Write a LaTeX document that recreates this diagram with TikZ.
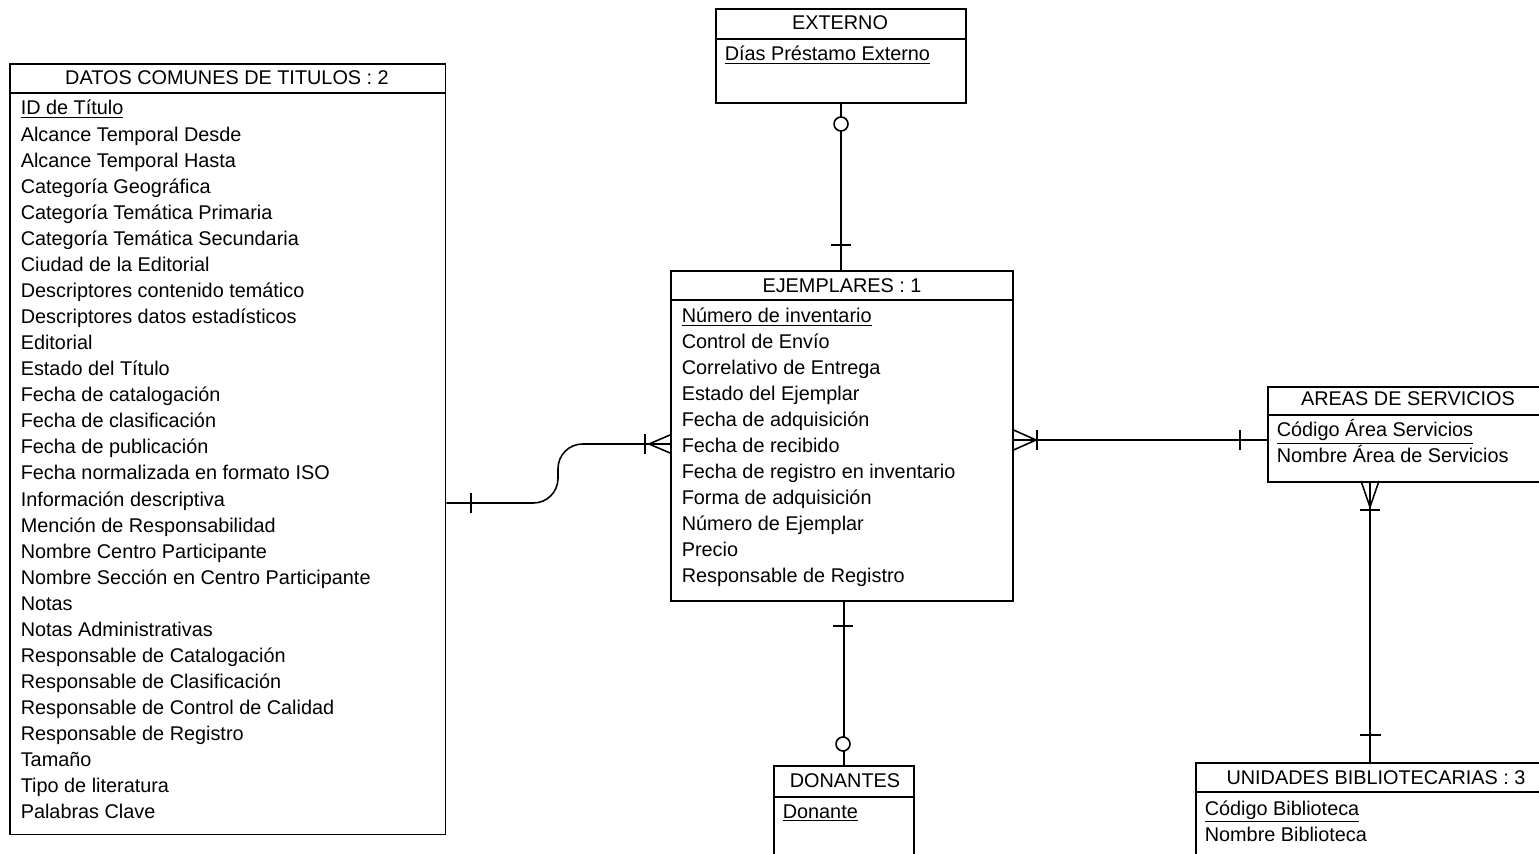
\documentclass[tikz,border=0pt]{standalone}
\usepackage{fontspec}
\setmainfont{Liberation Sans}
\usetikzlibrary{positioning}

\begin{document}
\begin{tikzpicture}[x=0.02cm,y=-0.02cm,line width=0.9pt,
    every node/.style={font=\fontsize{11.3}{13}\selectfont},
    entidad/.style={draw,rectangle,anchor=north west,inner sep=0pt},
    titulo/.style={anchor=base,inner sep=0pt},
    atributo/.style={anchor=base west,inner sep=0pt}]
\useasboundingbox (0,0) rectangle (1539,854);

% tablas
\node[entidad,minimum width=8.72cm,minimum height=15.42cm] (datos) at (9,63) {};
\node[entidad,minimum width=5cm,minimum height=1.88cm] (externo) at (715,8) {};
\node[entidad,minimum width=6.84cm,minimum height=6.6cm] (ejemplares) at (670,270) {};
\node[entidad,minimum width=5.8cm,minimum height=1.9cm] (areas) at (1267,386) {};
\node[entidad,minimum width=2.8cm,minimum height=3cm] (donantes) at (773,765) {};
\node[entidad,minimum width=7.6cm,minimum height=3cm] (unidades) at (1195,762) {};

% cabeceras
\draw (datos.west |- 0,93) -- (datos.east |- 0,93);
\draw (externo.west |- 0,39) -- (externo.east |- 0,39);
\draw (ejemplares.west |- 0,300) -- (ejemplares.east |- 0,300);
\draw (areas.west |- 0,415) -- (areas.east |- 0,415);
\draw (donantes.west |- 0,797) -- (donantes.east |- 0,797);
\draw (unidades.west |- 0,792) -- (unidades.east |- 0,792);

\node[titulo] (tDatos) at (227,85) {DATOS COMUNES DE TITULOS : 2};
\node[titulo] (tExterno) at (840,30) {EXTERNO};
\node[titulo] (tEjemplares) at (842,293) {EJEMPLARES : 1};
\node[titulo] (tAreas) at (1408,406) {AREAS DE SERVICIOS};
\node[titulo] (tDonantes) at (845,787) {DONANTES};
\node[titulo] (tUnidades) at (1376,785) {UNIDADES BIBLIOTECARIAS : 3};

% atributos
\node[atributo] (datA0) at (20,115) {\underline{ID de Título}};
\foreach \a [count=\i] in {Alcance Temporal Desde,Alcance Temporal Hasta,Categoría Geográfica,
    Categoría Temática Primaria,Categoría Temática Secundaria,Ciudad de la Editorial,
    Descriptores contenido temático,Descriptores datos estadísticos,Editorial,Estado del Título,
    Fecha de catalogación,Fecha de clasificación,Fecha de publicación,
    Fecha normalizada en formato ISO,Información descriptiva,Mención de Responsabilidad,
    Nombre Centro Participante,Nombre Sección en Centro Participante,Notas,
    Notas Administrativas,Responsable de Catalogación,Responsable de Clasificación,
    Responsable de Control de Calidad,Responsable de Registro,Tamaño,Tipo de literatura,
    Palabras Clave}
  \node[atributo] (datA\i) at (20,{115+26.07*\i}) {\a};

\node[atributo] (extA0) at (724,61) {\underline{Días Préstamo Externo}};

\node[atributo] (ejeA0) at (681,323) {\underline{Número de inventario}};
\foreach \a [count=\i] in {Control de Envío,Correlativo de Entrega,Estado del Ejemplar,
    Fecha de adquisición,Fecha de recibido,Fecha de registro en inventario,
    Forma de adquisición,Número de Ejemplar,Precio,Responsable de Registro}
  \node[atributo] (ejeA\i) at (681,{323+26*\i}) {\a};

\node[atributo] (areA0) at (1276,437) {\underline{Código Área Servicios}};
\node[atributo] (areA1) at (1276,463) {Nombre Área de Servicios};

\node[atributo] (donA0) at (782,818) {\underline{Donante}};

\node[atributo] (uniA0) at (1204,815) {\underline{Código Biblioteca}};
\node[atributo] (uniA1) at (1204,841) {Nombre Biblioteca};

% relaciones
\coordinate (colAreas) at (1370,0);
\draw[rounded corners=14] (datos.east |- 0,503) -- (558,503) -- (558,444) -- (ejemplares.west |- 0,444);
\draw (471,493) -- (471,513);
\draw (ejemplares.west |- 0,435) -- (649,444) -- (ejemplares.west |- 0,453);
\draw (645,434) -- (645,454);

\draw (externo.south) -- (externo.south |- ejemplares.north);
\draw[fill=white] (841,124) circle (7);
\draw (831,245) -- (851,245);

\draw (ejemplares.east |- 0,440) -- (areas.west |- 0,440);
\draw (ejemplares.east |- 0,430) -- (1036,440) -- (ejemplares.east |- 0,450);
\draw (1037,430) -- (1037,450);
\draw (1240,430) -- (1240,450);

\draw (donantes.north |- ejemplares.south) -- (donantes.north);
\draw (833,626) -- (853,626);
\draw[fill=white] (843,744) circle (7);

\draw (areas.south -| colAreas) -- (unidades.north -| colAreas);
\draw (1361,481) -- (1370,507) -- (1379,481);
\draw (1360,510) -- (1380,510);
\draw (1360,735) -- (1381,735);
\end{tikzpicture}
\end{document}
